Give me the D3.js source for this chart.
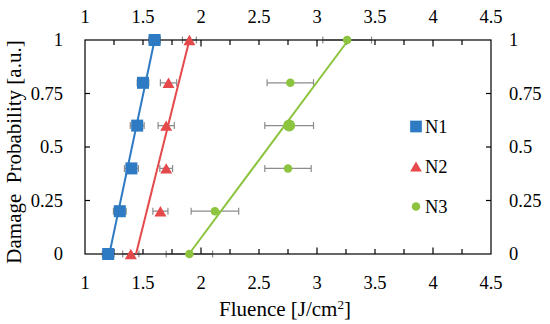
<!DOCTYPE html>
<meta charset="utf-8">
<style>
  body { margin: 0; background: #fff; }
  svg text { font-family: 'Liberation Serif', 'Tinos', 'DejaVu Serif', serif; fill: #000; }
  .tick-label { font-size: 18.5px; }
  .title { font-size: 21px; }
  .frame { fill: none; stroke: #000; stroke-width: 1.2px; }
  .tick { stroke: #000; stroke-width: 1.2px; }
  .err { stroke: #8c8c8c; stroke-width: 1.2px; fill: none; }
  .fit { fill: none; stroke-width: 2px; }
</style>
<svg width="550" height="324" font-family="Liberation Serif, serif"></svg>
<script src="https://d3js.org/d3.v7.min.js"></script>
<script>
  // Data
  var probability = [0, 0.2, 0.4, 0.6, 0.8, 1];

  var n1Fluence = [1.20, 1.30, 1.40, 1.45, 1.50, 1.60];
  var n1Error = [0.05, 0.055, 0.06, 0.06, 0.05, 0.05];
  var n2Fluence = [1.395, 1.65, 1.70, 1.70, 1.72, 1.90];
  var n2Error = [0.07, 0.065, 0.055, 0.07, 0.07, 0.06];
  var n3Fluence = [1.90, 2.12, 2.75, 2.76, 2.77, 3.26];
  var n3Error = [0.20, 0.205, 0.20, 0.21, 0.20, 0.21];

  // straight fit lines: fluence at probability 0 and 1
  var fitProbability = [0, 1];
  var n1Fit = [1.21, 1.60];
  var n2Fit = [1.44, 1.90];
  var n3Fit = [1.897, 3.27];

  var seriesNames = ["N1", "N2", "N3"];
  var xTickLabels = [1, 1.5, 2, 2.5, 3, 3.5, 4, 4.5];
  var yTickLabels = [0, 0.25, 0.5, 0.75, 1];

  var colors = ["#2e7bc3", "#e5494b", "#8cc43f"];

  var svg = d3.select("svg");
  var plot = { left: 85, right: 491, top: 40, bottom: 254 };

  var x = d3.scaleLinear().domain([1, 4.5]).range([plot.left, plot.right]);
  var y = d3.scaleLinear().domain([0, 1]).range([plot.bottom, plot.top]);

  var series = [
    { name: seriesNames[0], fx: n1Fluence, err: n1Error, fit: n1Fit, shape: "square" },
    { name: seriesNames[1], fx: n2Fluence, err: n2Error, fit: n2Fit, shape: "triangle" },
    { name: seriesNames[2], fx: n3Fluence, err: n3Error, fit: n3Fit, shape: "circle" }
  ];

  // markers
  function marker(sel, shape, color, size) {
    if (shape === "square") {
      sel.append("rect")
        .attr("x", -size / 2).attr("y", -size / 2)
        .attr("width", size).attr("height", size)
        .attr("fill", color);
    } else if (shape === "triangle") {
      var h = size * 0.87;
      sel.append("path")
        .attr("d", "M0," + (-h / 2) + "L" + (size / 2) + "," + (h / 2) + "L" + (-size / 2) + "," + (h / 2) + "Z")
        .attr("fill", color);
    } else {
      sel.append("circle").attr("r", size / 2).attr("fill", color);
    }
  }

  function markerSize(s, i) {
    if (s.shape === "square") return 12;
    if (s.shape === "triangle") return 12;
    return i === 3 ? 12 : 8.5; // N3 at 0.6 is drawn bigger
  }

  // ticks (inside the frame, every 0.25)
  var xTicks = d3.range(1.25, 4.5, 0.25);
  var yTicks = [0.25, 0.5, 0.75];
  var ticks = svg.append("g");

  xTicks.forEach(function (v) {
    var len = Number.isInteger(v) ? 6.5 : 5;
    ticks.append("line").attr("class", "tick")
      .attr("x1", x(v)).attr("x2", x(v))
      .attr("y1", plot.bottom).attr("y2", plot.bottom - len);
    ticks.append("line").attr("class", "tick")
      .attr("x1", x(v)).attr("x2", x(v))
      .attr("y1", plot.top).attr("y2", plot.top + len);
  });
  yTicks.forEach(function (v) {
    ticks.append("line").attr("class", "tick")
      .attr("x1", plot.left).attr("x2", plot.left + 5)
      .attr("y1", y(v)).attr("y2", y(v));
    ticks.append("line").attr("class", "tick")
      .attr("x1", plot.right).attr("x2", plot.right - 5)
      .attr("y1", y(v)).attr("y2", y(v));
  });

  // error bars
  var errG = svg.append("g");
  series.forEach(function (s) {
    probability.forEach(function (p, i) {
      var x0 = x(s.fx[i] - s.err[i]), x1 = x(s.fx[i] + s.err[i]), yy = y(p);
      errG.append("path").attr("class", "err")
        .attr("d", "M" + x0 + "," + yy + "H" + x1 +
          "M" + x0 + "," + (yy - 3.5) + "V" + (yy + 3.5) +
          "M" + x1 + "," + (yy - 3.5) + "V" + (yy + 3.5));
    });
  });

  // frame
  svg.append("rect").attr("class", "frame")
    .attr("x", plot.left).attr("y", plot.top)
    .attr("width", plot.right - plot.left)
    .attr("height", plot.bottom - plot.top);

  // fit lines
  var line = d3.line()
    .x(function (d) { return x(d[0]); })
    .y(function (d) { return y(d[1]); });

  series.forEach(function (s, k) {
    svg.append("path").attr("class", "fit")
      .attr("stroke", colors[k])
      .attr("d", line(fitProbability.map(function (p, i) { return [s.fit[i], p]; })));
  });

  // points
  series.forEach(function (s, k) {
    probability.forEach(function (p, i) {
      var g = svg.append("g").attr("transform", "translate(" + x(s.fx[i]) + "," + y(p) + ")");
      marker(g, s.shape, colors[k], markerSize(s, i));
    });
  });

  // tick labels
  xTickLabels.forEach(function (v) {
    svg.append("text").attr("class", "tick-label")
      .attr("x", x(v)).attr("y", 289)
      .attr("text-anchor", "middle").text(v);
    svg.append("text").attr("class", "tick-label")
      .attr("x", x(v)).attr("y", 23)
      .attr("text-anchor", "middle").text(v);
  });
  yTickLabels.forEach(function (v) {
    svg.append("text").attr("class", "tick-label")
      .attr("x", 63).attr("y", y(v)).attr("dy", "0.35em")
      .attr("text-anchor", "end").text(v);
    svg.append("text").attr("class", "tick-label")
      .attr("x", 509).attr("y", y(v)).attr("dy", "0.35em")
      .attr("text-anchor", "start").text(v);
  });

  // axis titles
  var xt = svg.append("text").attr("class", "title")
    .attr("x", 285).attr("y", 316).attr("text-anchor", "middle");
  xt.append("tspan").text("Fluence [J/cm");
  xt.append("tspan").attr("font-size", "13px").attr("dy", "-7").text("2");
  xt.append("tspan").attr("dy", "7").text("]");

  svg.append("text").attr("class", "title")
    .attr("transform", "translate(21,152) rotate(-90)")
    .attr("text-anchor", "middle")
    .style("white-space", "pre")
    .text("Damage  Probability [a.u.]");

  // legend
  var legend = svg.append("g").attr("transform", "translate(416,126.5)");
  series.forEach(function (s, k) {
    var g = legend.append("g").attr("transform", "translate(0," + (k * 40) + ")");
    marker(g, s.shape, colors[k], s.shape === "circle" ? 8.5 : 11.7);
    g.append("text").attr("class", "tick-label")
      .attr("x", 9).attr("dy", "0.35em").text(s.name);
  });
</script>
